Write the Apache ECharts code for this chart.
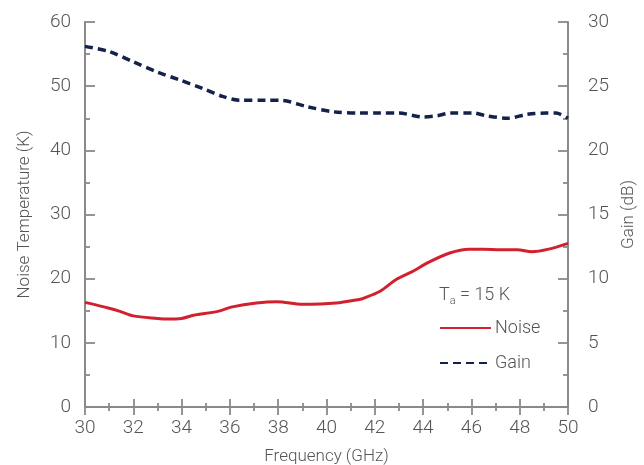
<!DOCTYPE html>
<html><head><meta charset="utf-8">
<script src="https://cdn.jsdelivr.net/npm/echarts@6/dist/echarts.min.js"></script>
<style>html,body{margin:0;padding:0;background:#fff}#c{width:644px;height:465px}</style>
</head><body><div id="c"></div>
<script>
const noiseFreq = [30,31,31.45,32,33,33.4,34,34.5,35.5,36.1,37.1,37.95,39,40.4,41.4,41.5,42.2,42.9,43.6,44.2,45.1,45.9,46.5,47.2,47.9,48.5,49.2,50];
const noiseK    = [16.3,15.4,14.9,14.2,13.8,13.7,13.8,14.3,14.9,15.6,16.2,16.4,16.0,16.2,16.8,16.9,18.0,19.9,21.2,22.5,24.0,24.6,24.6,24.5,24.5,24.2,24.6,25.5];
const gainFreq  = [30,31,32,33,33.9,34.9,35.7,36.4,37.5,38.1,39.2,40.3,41.4,42.2,43.0,44.0,44.6,45.1,46.1,46.6,47.5,48.3,49.1,49.5,50];
const gainDB    = [28.1,27.7,26.9,26.1,25.5,24.8,24.2,23.9,23.9,23.9,23.4,23.0,22.9,22.9,22.9,22.6,22.7,22.9,22.9,22.7,22.5,22.8,22.9,22.9,22.5];
const xTicks = [30,32,34,36,38,40,42,44,46,48,50];
const leftTicks = [0,10,20,30,40,50,60];
const rightTicks = [0,5,10,15,20,25,30];

const FONT = 'Roboto';
const LBL = '#555';
const AX = '#8a8a8a';
const chart = echarts.init(document.getElementById('c'), null, {renderer:'canvas'});
const zip = (a,b)=>a.map((v,i)=>[v,b[i]]);
const axLine = {show:true, lineStyle:{color:AX, width:2}};
const tick = (len)=>({inside:true,length:len,lineStyle:{color:AX,width:1.8}});
const mtick = (len)=>({show:true,splitNumber:2,length:len,lineStyle:{color:AX,width:1.8}});
const lbl = {fontFamily:FONT,fontWeight:300,fontSize:19,color:LBL};
const nm = {fontFamily:FONT,fontWeight:300,fontSize:17,color:LBL};
chart.setOption({
  animation:false,
  grid:{left:85, right:76, top:22, bottom:58, containLabel:false, outerBoundsMode:'none'},
  title:{text:'{t|T}{s|a}{t| = 15 K}', left:434, top:279,
    textStyle:{rich:{t:{fontFamily:FONT,fontWeight:300,fontSize:18,color:LBL},s:{fontFamily:FONT,fontWeight:300,fontSize:11,color:LBL,padding:[12,0,0,0]}}}},
  legend:{orient:'vertical', left:434, top:314, itemWidth:51, itemHeight:14, itemGap:17,
    itemStyle:{opacity:0},
    textStyle:{fontFamily:FONT,fontWeight:300,fontSize:18,color:LBL,padding:[0,0,0,-1]},
    data:[{name:'Noise'},{name:'Gain'}]},
  xAxis:[{type:'value', min:30, max:50, interval:2, position:'bottom',
    name:'Frequency (GHz)', nameLocation:'middle', nameGap:41,
    nameTextStyle:nm,
    axisLine:axLine, axisTick:tick(8), minorTick:mtick(4),
    axisLabel:Object.assign({margin:12, formatter:v=>xTicks.includes(v)?String(v):''}, lbl),
    splitLine:{show:false}},
   {type:'value', min:30, max:50, interval:2, position:'top',
    axisLine:axLine, axisTick:tick(8), minorTick:mtick(4),
    axisLabel:{show:false}, splitLine:{show:false}}],
  yAxis:[{type:'value', min:0, max:60, interval:10, position:'left',
    name:'Noise Temperature (K)', nameLocation:'middle', nameGap:52,
    nameTextStyle:nm,
    axisLine:axLine, axisTick:tick(10), minorTick:mtick(5),
    axisLabel:Object.assign({margin:14, formatter:v=>leftTicks.includes(v)?String(v):''}, lbl),
    splitLine:{show:false}},
   {type:'value', min:0, max:30, interval:5, position:'right',
    name:'Gain (dB)', nameLocation:'middle', nameGap:43,
    nameTextStyle:nm,
    axisLine:axLine, axisTick:tick(10), minorTick:mtick(5),
    axisLabel:Object.assign({margin:20, formatter:v=>rightTicks.includes(v)?String(v):''}, lbl),
    splitLine:{show:false}}],
  series:[
    {name:'Noise', type:'line', xAxisIndex:0, yAxisIndex:0, data:zip(noiseFreq,noiseK),
     smooth:0.3, showSymbol:false, symbol:'none', color:'#d2202f',
     lineStyle:{color:'#d2202f', width:3}},
    {name:'Gain', type:'line', xAxisIndex:0, yAxisIndex:1, data:zip(gainFreq,gainDB),
     smooth:0.3, showSymbol:false, symbol:'none', color:'#13224a',
     lineStyle:{color:'#13224a', width:3.5, type:[8,5]}}
  ]
});
</script></body></html>
